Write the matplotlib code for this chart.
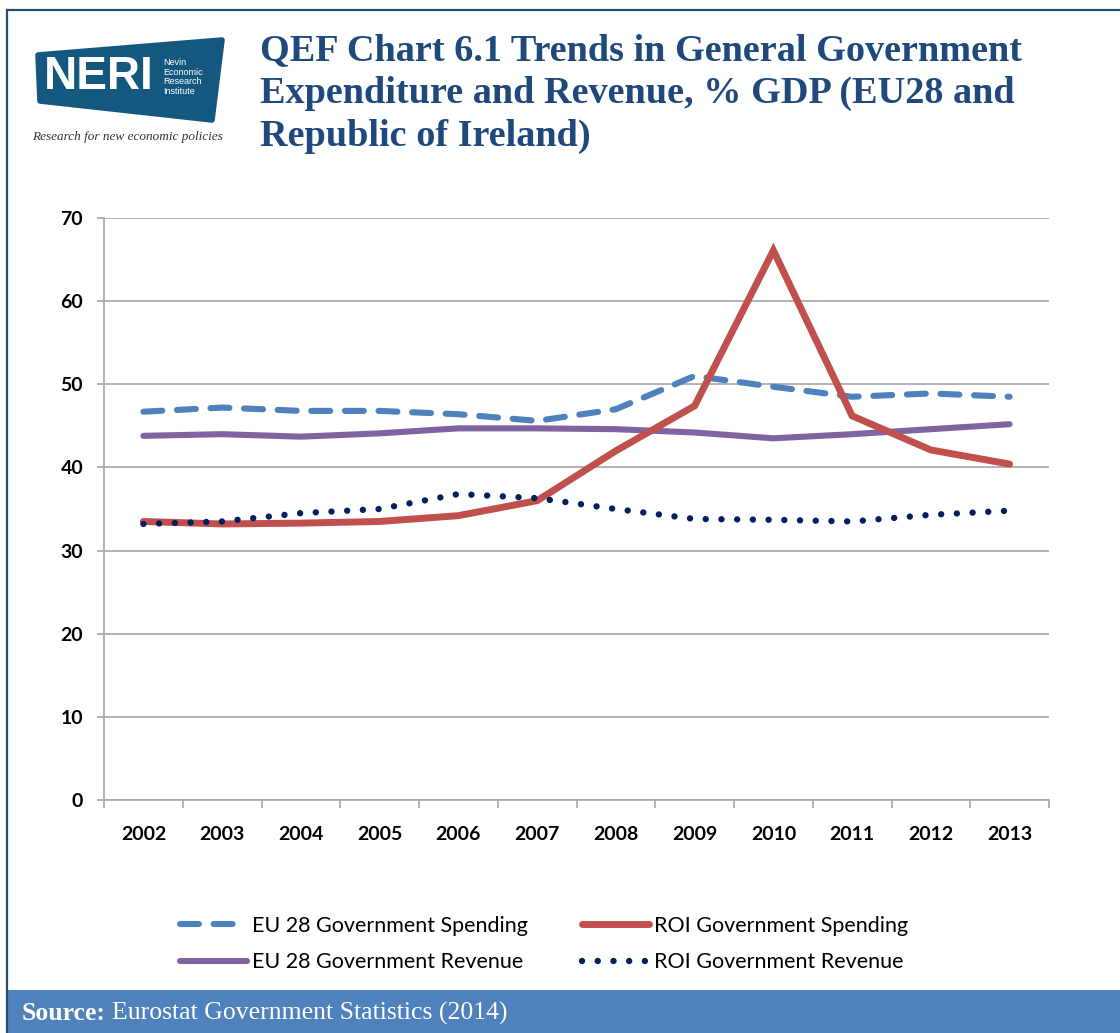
import numpy as np
import matplotlib.pyplot as plt
from matplotlib.patches import Polygon, Rectangle
from matplotlib.lines import Line2D

# General government expenditure and revenue, % of GDP
years = ['2002', '2003', '2004', '2005', '2006', '2007',
         '2008', '2009', '2010', '2011', '2012', '2013']
eu_spend = [46.7, 47.2, 46.8, 46.8, 46.4, 45.6, 47.0, 51.0, 49.7, 48.5, 48.9, 48.5]
roi_spend = [33.5, 33.2, 33.3, 33.5, 34.2, 36.0, 42.0, 47.4, 66.1, 46.2, 42.1, 40.4]
eu_rev = [43.8, 44.0, 43.7, 44.1, 44.7, 44.7, 44.6, 44.2, 43.5, 44.0, 44.6, 45.2]
roi_rev = [33.2, 33.5, 34.5, 35.0, 36.8, 36.3, 35.0, 33.8, 33.7, 33.5, 34.3, 34.8]
y_ticks = [0, 10, 20, 30, 40, 50, 60, 70]

W, H = 1120, 1033
fig = plt.figure(figsize=(W / 100, H / 100), dpi=100)

def fx(px):
    return px / W

def fy(px):
    return 1 - px / H

navy = '#1F4E79'
grid_col = '#A6A6A6'

# frame and source strip
fig.add_artist(Line2D([fx(7), fx(7)], [0, fy(10)], color=navy, lw=1.6))
fig.add_artist(Line2D([fx(7), 1], [fy(10), fy(10)], color=navy, lw=1.6))
fig.add_artist(Rectangle((fx(8), 0), 1 - fx(8), fy(990), color='#4F81BD', lw=0))
src = fig.text(fx(22), fy(1013), 'Source:', color='white', fontsize=18.5, fontweight='bold',
               family='Liberation Serif', va='center', ha='left')
fig.canvas.draw()
bb = src.get_window_extent()
fig.text((bb.x1 + 6) / W, fy(1013), 'Eurostat Government Statistics (2014)', color='white',
         fontsize=18.5, family='Liberation Serif', va='center', ha='left')

# logo
logo = Polygon([(fx(38), fy(55)), (fx(222), fy(40)), (fx(212), fy(120)), (fx(40), fy(101))],
               closed=True, facecolor='#15587F', edgecolor='#15587F', lw=4, joinstyle='round')
fig.add_artist(logo)
fig.text(fx(44), fy(77), 'NERI', color='white', fontsize=33, fontweight='bold',
         family='Liberation Sans', va='center', ha='left')
fig.text(fx(163), fy(77), 'Nevin\nEconomic\nResearch\nInstitute', color='white', fontsize=6.5,
         family='Liberation Sans', va='center', ha='left', linespacing=1.05)
fig.text(fx(127), fy(137), 'Research for new economic policies', color='#333333', fontsize=9.5,
         style='italic', family='Liberation Serif', va='center', ha='center')

# title
fig.text(fx(260), fy(33), 'QEF Chart 6.1 Trends in General Government\n'
         'Expenditure and Revenue, % GDP (EU28 and\nRepublic of Ireland)',
         color='#1F497D', fontsize=27.5, fontweight='bold', family='Liberation Serif',
         va='top', ha='left', linespacing=1.3)

# plot area
ax = fig.add_axes([fx(104), fy(800), fx(1049) - fx(104), fy(218) - fy(800)])
x = np.arange(len(years))

ax.plot(x, eu_spend, color='#4F81BD', lw=4.4, dashes=(3.1, 2.4),
        dash_capstyle='round', label='EU 28 Government Spending')
ax.plot(x, eu_rev, color='#8064A2', lw=4.4, solid_capstyle='round',
        solid_joinstyle='round', label='EU 28 Government Revenue')
ax.plot(x, roi_spend, color='#C0504D', lw=5.0, solid_capstyle='round',
        solid_joinstyle='miter', label='ROI Government Spending')
ax.plot(x, roi_rev, color='#002060', lw=4.6, dashes=(0.01, 2.45),
        dash_capstyle='round', label='ROI Government Revenue')

ax.set_xlim(-0.5, len(years) - 0.5)
ax.set_ylim(0, 70)
ax.set_yticks(y_ticks)
ax.set_yticklabels([str(v) for v in y_ticks])
ax.grid(axis='y', color=grid_col, lw=1.2)
ax.set_axisbelow(True)

# tick marks sit between categories, labels at the centres
ax.set_xticks(np.arange(-0.5, len(years)), minor=False)
ax.set_xticklabels([])
ax.set_xticks(x, minor=True)
ax.set_xticklabels(years, minor=True)
ax.tick_params(axis='x', which='major', length=6, color=grid_col, width=1.2)
ax.tick_params(axis='x', which='minor', length=0, pad=19)
ax.tick_params(axis='y', length=5, color=grid_col, width=1.2, pad=10)

for lab in ax.get_xticklabels(minor=True) + ax.get_yticklabels():
    lab.set_family('Lato')
    lab.set_fontweight('bold')
    lab.set_fontsize(14)

for s in ['top', 'right']:
    ax.spines[s].set_visible(False)
ax.spines['left'].set_color(grid_col)
ax.spines['bottom'].set_color(grid_col)
ax.spines['left'].set_linewidth(1.2)
ax.spines['bottom'].set_linewidth(1.2)

fig.legend(loc='upper left', bbox_to_anchor=(fx(180), fy(916)), ncol=2, frameon=False,
           borderpad=0, borderaxespad=0, handlelength=3.1, handletextpad=0.25,
           columnspacing=2.5, labelspacing=0.75,
           prop={'family': 'Lato', 'size': 15.5})

fig.savefig('out.png', dpi=100)
